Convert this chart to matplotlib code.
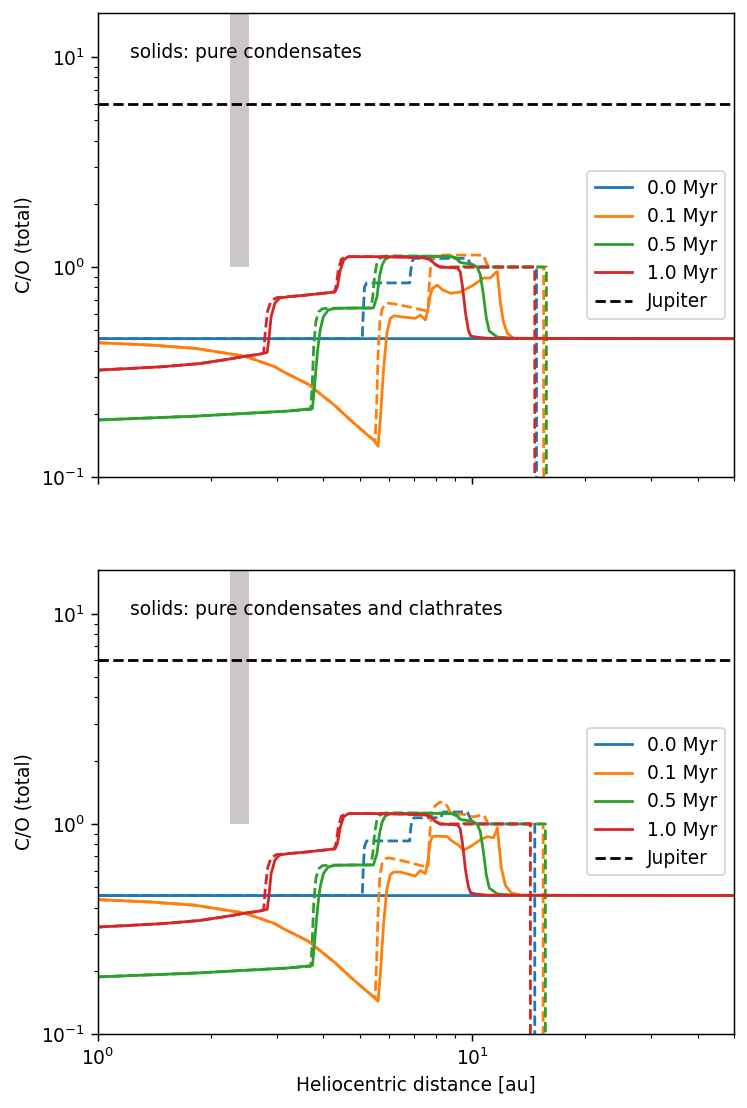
import matplotlib
matplotlib.use("Agg")
import matplotlib.pyplot as plt

# C/O (total) vs heliocentric distance
times = ["0.0 Myr", "0.1 Myr", "0.5 Myr", "1.0 Myr"]
colors = ["tab:blue", "tab:orange", "tab:green", "tab:red"]
jupiter_co = 6.0
bar_x = [2.25, 2.53]
bar_bottom = 1.0
panel_texts = ["solids: pure condensates", "solids: pure condensates and clathrates"]
GONE = 1e-3  # dashed curves vanish below the axis after their cut

# where each dashed curve is cut (blue, orange, green, red)
cut_top = [14.84, 15.51, 15.77, 14.68]
cut_bot = [14.68, 15.46, 15.67, 14.29]

# 0.0 Myr
blue_solid_x = [1.0, 50.0]
blue_solid_y = [0.456, 0.456]
blue_dash_top_x = [1.0, 5.08, 5.11, 5.15, 5.22, 6.80, 6.84, 6.90, 6.98, 9.70, 9.90, 10.06]
blue_dash_top_y = [0.456, 0.456, 0.60, 0.80, 0.84, 0.84, 0.95, 1.06, 1.10, 1.10, 1.03, 1.0]
blue_dash_bot_x = [1.0, 5.08, 5.11, 5.15, 5.22, 6.80, 6.84, 6.90, 6.98, 8.25, 8.30, 8.36, 9.70, 9.90, 10.06]
blue_dash_bot_y = [0.456, 0.456, 0.60, 0.78, 0.83, 0.83, 0.95, 1.04, 1.07, 1.07, 1.11, 1.14, 1.14, 1.05, 1.0]

# 0.1 Myr
orange_left_x = [1.0, 1.38, 1.82, 2.47, 2.97, 3.12, 3.64, 4.28, 4.72, 5.20, 5.45]
orange_left_y = [0.436, 0.425, 0.41, 0.376, 0.335, 0.318, 0.277, 0.22, 0.187, 0.161, 0.150]
orange_solid_top_x = [5.60, 5.675, 5.79, 5.91, 6.04, 6.17, 6.42, 7.04, 7.26, 7.49, 7.60, 7.72, 7.82, 8.06,
                      8.31, 8.74, 9.29, 10.06, 10.70, 11.17, 11.52, 11.66, 11.73, 11.88, 12.10, 12.40,
                      12.87, 14.0, 50.0]
orange_solid_top_y = [0.140, 0.187, 0.323, 0.483, 0.57, 0.586, 0.58, 0.57, 0.59, 0.56, 0.62, 0.735, 0.79, 0.82,
                      0.78, 0.75, 0.76, 0.82, 0.886, 0.886, 0.937, 0.95, 0.85, 0.68, 0.55, 0.485,
                      0.458, 0.456, 0.456]
orange_dash_top_x = [5.50, 5.55, 5.60, 5.66, 5.74, 5.85, 5.95, 6.10, 6.80, 7.50, 7.62, 7.68, 7.75, 7.85,
                     8.10, 10.70, 10.85, 11.04]
orange_dash_top_y = [0.15, 0.22, 0.38, 0.55, 0.63, 0.665, 0.673, 0.67, 0.645, 0.62, 0.63, 0.85, 1.05, 1.12,
                     1.14, 1.14, 1.07, 1.0]
orange_solid_bot_x = [5.60, 5.675, 5.79, 5.91, 6.04, 6.17, 6.42, 7.04, 7.26, 7.49, 7.60, 7.72, 7.82, 8.06,
                      8.58, 8.74, 9.20, 9.46, 9.88, 10.50, 10.97, 11.38, 11.58, 11.66, 11.76, 11.95,
                      12.25, 12.70, 13.5, 50.0]
orange_solid_bot_y = [0.143, 0.19, 0.33, 0.49, 0.575, 0.59, 0.59, 0.565, 0.60, 0.58, 0.66, 0.82, 0.87, 0.875,
                      0.87, 0.84, 0.79, 0.75, 0.78, 0.84, 0.87, 0.86, 0.92, 0.96, 0.82, 0.62,
                      0.51, 0.47, 0.457, 0.456]
orange_dash_bot_x = [5.50, 5.55, 5.60, 5.66, 5.74, 5.85, 5.95, 6.10, 6.80, 7.50, 7.62, 7.68, 7.75, 7.82,
                     7.95, 8.20, 8.45, 8.60, 8.72, 8.90, 9.50, 10.06, 10.50, 10.75, 10.90, 11.0]
orange_dash_bot_y = [0.15, 0.22, 0.38, 0.56, 0.65, 0.68, 0.69, 0.685, 0.655, 0.625, 0.63, 0.85, 1.05, 1.14,
                     1.22, 1.27, 1.26, 1.20, 1.14, 1.12, 1.11, 1.08, 1.10, 1.10, 1.045, 1.0]

# 0.5 Myr
green_solid_x = [1.0, 1.82, 2.74, 3.20, 3.74, 3.80, 3.86, 3.92, 4.00, 4.12, 4.30, 5.0, 5.44, 5.56, 5.65,
                 5.74, 5.85, 6.04, 7.0, 8.8, 9.1, 9.3, 10.0, 10.3, 10.5, 10.7, 10.9, 11.1, 11.66, 13.0, 50.0]
green_solid_y = [0.187, 0.195, 0.203, 0.206, 0.212, 0.29, 0.40, 0.50, 0.58, 0.624, 0.636, 0.638, 0.638, 0.72, 0.90,
                 1.02, 1.09, 1.12, 1.125, 1.12, 1.09, 1.05, 1.03, 1.0, 0.92, 0.74, 0.57, 0.495, 0.464, 0.457, 0.456]
green_dash_x = [1.0, 1.82, 2.74, 3.20, 3.70, 3.73, 3.77, 3.82, 3.88, 3.97, 4.10, 5.0, 5.36, 5.42, 5.48,
                5.55, 5.65, 5.80, 6.0, 8.8, 9.1, 9.3, 9.5]
green_dash_y = [0.187, 0.195, 0.203, 0.206, 0.210, 0.26, 0.42, 0.55, 0.61, 0.632, 0.636, 0.638, 0.638, 0.72, 0.90,
                1.03, 1.10, 1.125, 1.13, 1.125, 1.10, 1.04, 1.0]

# 1.0 Myr
red_solid_x = [1.0, 1.48, 1.87, 2.23, 2.47, 2.71, 2.83, 2.86, 2.90, 2.97, 3.06, 3.22, 3.6, 4.0, 4.30, 4.36,
               4.44, 4.53, 4.66, 5.5, 6.5, 7.5, 7.75, 7.95, 8.2, 9.12, 9.28, 9.40, 9.50, 9.58, 9.76, 9.9,
               10.19, 10.97, 50.0]
red_solid_y = [0.323, 0.335, 0.347, 0.364, 0.376, 0.385, 0.392, 0.45, 0.58, 0.674, 0.712, 0.722, 0.735, 0.75, 0.762, 0.806,
               0.968, 1.08, 1.12, 1.12, 1.115, 1.105, 1.08, 1.03, 1.0, 0.99, 0.95, 0.82, 0.70, 0.61, 0.50, 0.47,
               0.464, 0.458, 0.456]
red_dash_x = [1.0, 1.48, 1.87, 2.23, 2.47, 2.71, 2.77, 2.80, 2.84, 2.90, 3.0, 3.22, 3.6, 4.0, 4.28, 4.33,
              4.39, 4.47, 4.60, 4.75, 5.5, 6.5, 7.5, 7.75, 7.95, 8.2]
red_dash_y = [0.323, 0.335, 0.347, 0.364, 0.376, 0.385, 0.39, 0.50, 0.62, 0.69, 0.715, 0.722, 0.735, 0.75, 0.76, 0.82,
              0.98, 1.09, 1.115, 1.12, 1.12, 1.115, 1.105, 1.08, 1.03, 1.0]

solid_top = [(blue_solid_x, blue_solid_y),
             (orange_left_x + orange_solid_top_x, orange_left_y + orange_solid_top_y),
             (green_solid_x, green_solid_y),
             (red_solid_x, red_solid_y)]
dash_top = [(blue_dash_top_x, blue_dash_top_y),
            (orange_left_x + orange_dash_top_x, orange_left_y + orange_dash_top_y),
            (green_dash_x, green_dash_y),
            (red_dash_x, red_dash_y)]
solid_bot = [(blue_solid_x, blue_solid_y),
             (orange_left_x + orange_solid_bot_x, orange_left_y + orange_solid_bot_y),
             (green_solid_x, green_solid_y),
             (red_solid_x, red_solid_y)]
dash_bot = [(blue_dash_bot_x, blue_dash_bot_y),
            (orange_left_x + orange_dash_bot_x, orange_left_y + orange_dash_bot_y),
            (green_dash_x, green_dash_y),
            (red_dash_x, red_dash_y)]

DPI = 134
fig, axes = plt.subplots(2, 1, sharex=True, figsize=(747 / DPI, 1108 / DPI), dpi=DPI)
plt.subplots_adjust(left=0.1312, right=0.9826, top=0.9883, bottom=0.0668, hspace=0.2)

for ax, solids, dashes, cuts, txt in zip(axes, [solid_top, solid_bot], [dash_top, dash_bot],
                                         [cut_top, cut_bot], panel_texts):
    ax.fill_between(bar_x, bar_bottom, 100, color="#ccc6c8", lw=0, zorder=0)
    for i in range(4):
        dx, dy = dashes[i]
        # dashed curve keeps 1.0 up to its cut, then drops off the axis
        ax.plot(dx + [cuts[i], cuts[i]], dy + [1.0, GONE], color=colors[i], ls="--", snap=False)
        sx, sy = solids[i]
        ax.plot(sx, sy, color=colors[i], label=times[i], snap=False)
    ax.axhline(jupiter_co, color="k", ls="--", label="Jupiter")
    ax.set_xscale("log")
    ax.set_yscale("log")
    ax.set_xlim(1, 50)
    ax.set_ylim(0.1, 16.2)
    ax.set_ylabel("C/O (total)")
    ax.text(0.05, 0.915, txt, transform=ax.transAxes, va="center")
    ax.legend(loc="center right")

axes[1].set_xlabel("Heliocentric distance [au]")

plt.savefig("out.png", dpi=DPI)
